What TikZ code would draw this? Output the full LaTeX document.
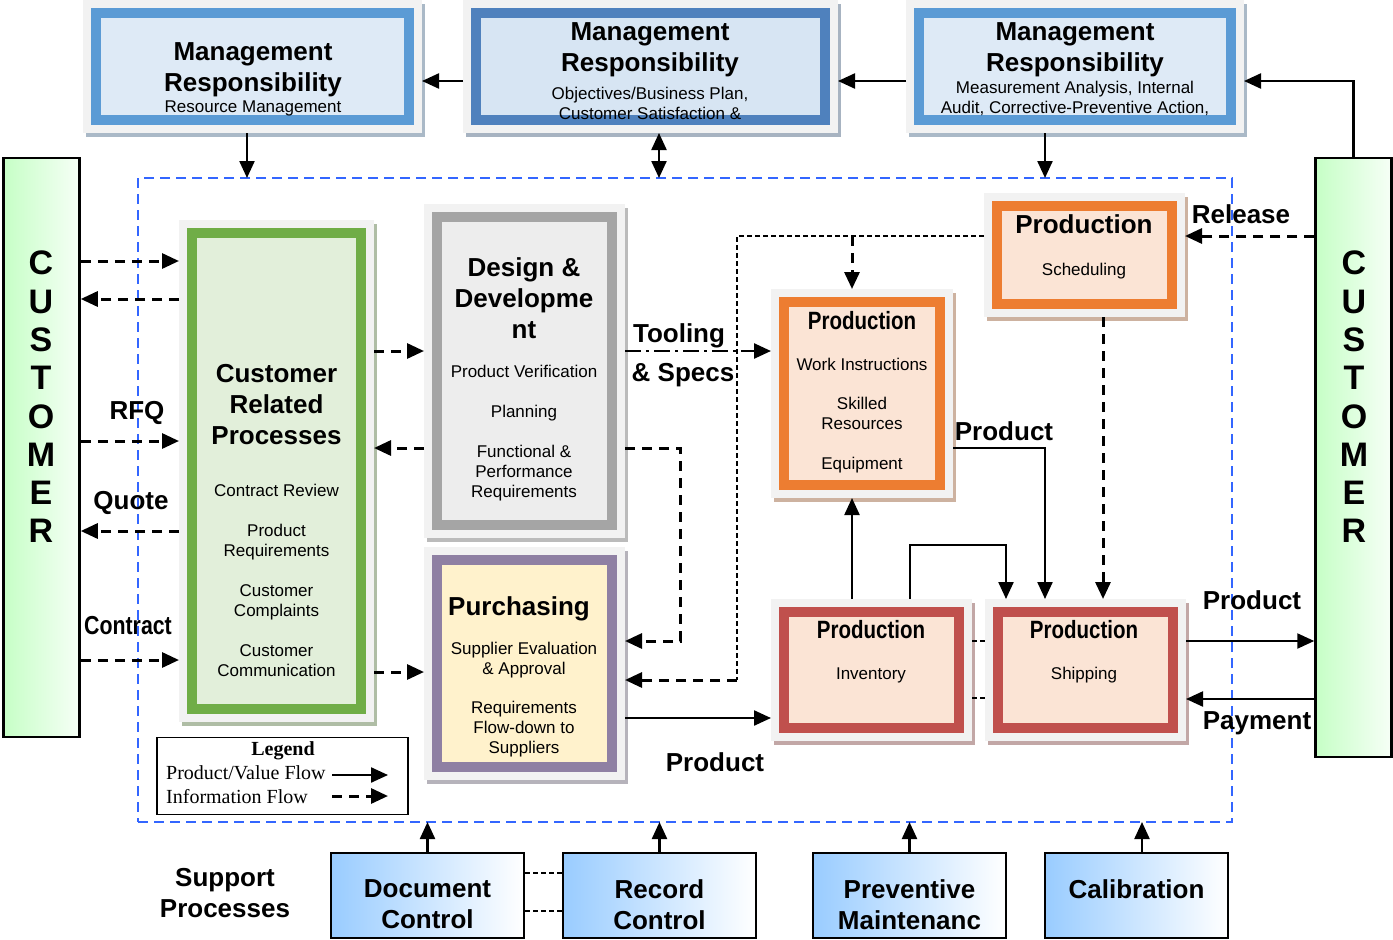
\documentclass[tikz,border=0pt]{standalone}
\usepackage{fontspec}
\setmainfont{Liberation Sans}
\newfontfamily\legfont{Liberation Serif}
\newfontfamily\narrowfont[FakeStretch=0.82]{Liberation Sans}
\usetikzlibrary{arrows.meta}
\definecolor{panel}{HTML}{F2F2F2}
\definecolor{mrA}{HTML}{5B9BD5}
\definecolor{mrB}{HTML}{4F81BD}
\definecolor{mrfill}{HTML}{DEEAF6}
\definecolor{crpgreen}{HTML}{70AD47}
\definecolor{crpfill}{HTML}{E2EFDA}
\definecolor{ddgray}{HTML}{A5A5A5}
\definecolor{ddfill}{HTML}{EDEDED}
\definecolor{pupurple}{HTML}{8F80A3}
\definecolor{pufill}{HTML}{FFF2CC}
\definecolor{porange}{HTML}{ED7D31}
\definecolor{pred}{HTML}{C0504D}
\definecolor{pfill}{HTML}{FBE4D5}
\definecolor{custgreen}{HTML}{C6FFC6}
\definecolor{supblue}{HTML}{99CCFF}
\definecolor{qmsblue}{HTML}{3366FF}
\tikzset{
  pbox/.style 2 args={draw=#1, fill=#2, line width=10pt, inner sep=0pt, outer sep=13pt,
    preaction={draw=#1!40!gray!60!white, line width=26pt, transform canvas={shift={(3pt,-4pt)}}},
    preaction={draw=panel, line width=26pt}},
  cust/.style={draw=black, line width=2.5pt, left color=custgreen, right color=custgreen!15!white,
    minimum width=76pt, inner sep=0pt},
  supbox/.style={draw=black, line width=2.5pt, left color=supblue, right color=white,
    minimum width=193pt, minimum height=85pt, inner sep=0pt},
  ttl/.style={font=\fontsize{26}{31}\selectfont\bfseries, align=center, inner sep=0pt},
  ntl/.style={font=\fontsize{25}{30}\selectfont\narrowfont\bfseries, align=center, inner sep=0pt},
  txt/.style={font=\fontsize{17}{20}\selectfont, align=center, inner sep=0pt},
  letters/.style={font=\fontsize{34}{38.3}\selectfont\bfseries, align=center, inner sep=0pt},
  lbl/.style={font=\fontsize{26}{31}\selectfont\bfseries, inner sep=0pt},
  nlbl/.style={font=\fontsize{26}{31}\selectfont\narrowfont\bfseries, inner sep=0pt},
  legtxt/.style={font=\fontsize{20}{24}\selectfont\legfont, inner sep=0pt},
  flow/.style={line width=2.3pt, -{Triangle[length=17pt,width=15pt]}},
  flowboth/.style={line width=2.3pt, {Triangle[length=17pt,width=15pt]}-{Triangle[length=17pt,width=15pt]}},
  info/.style={line width=3pt, dash pattern=on 10pt off 7pt, -{Triangle[length=17pt,width=15pt]}},
  dashdot/.style={line width=2.5pt, dash pattern=on 16pt off 5pt on 3pt off 5pt, -{Triangle[length=17pt,width=15pt]}},
  thinline/.style={line width=1.2pt, dash pattern=on 5pt off 3pt},
}
\begin{document}
\begin{tikzpicture}[x=1pt, y=-1pt]
			\useasboundingbox (0,0) rectangle (1393,940);
			\node [draw=qmsblue, line width=2pt, dash pattern=on 10pt off 6pt, outer sep=0pt, minimum width=1094pt, minimum height=644pt] (qms) at (685,500) {};
			
			\node [pbox={mrA}{mrfill}, minimum width=313pt, minimum height=107pt] (MR1) at (252.5,66.5) {};
			\node [pbox={mrB}{mrfill!95!mrB}, minimum width=349pt, minimum height=107pt] (MR2) at (650.5,66.5) {};
			\node [pbox={mrA}{mrfill}, minimum width=312pt, minimum height=107pt] (MR3) at (1075,66.5) {};
			\node [ttl] (MR1t) at (253,70) {Management\\Responsibility};
			\node [txt] (MR1s) at (253,108.5) {Resource Management};
			\node [ttl] (MR2t) at (650,50) {Management\\Responsibility};
			\node [txt] (MR2s) at (650,103) {Objectives/Business Plan,\\Customer Satisfaction \&};
			\node [ttl] (MR3t) at (1075,50) {Management\\Responsibility};
			\node [txt] (MR3s) at (1075,98) {Measurement Analysis, Internal\\Audit, Corrective-Preventive Action,};
			
			\node [cust, minimum height=579pt] (CustL) at (41.5,447.5) {};
			\node [cust, minimum height=599pt] (CustR) at (1353.5,457.5) {};
			\node [letters] (CustLt) at (41,397) {C\\U\\S\\T\\O\\M\\E\\R};
			\node [letters] (CustRt) at (1354,397) {C\\U\\S\\T\\O\\M\\E\\R};
			
			\node [pbox={crpgreen}{crpfill}, minimum width=169pt, minimum height=476pt] (CRP) at (276.5,471) {};
			\node [ttl] (CRPt) at (276.5,405) {Customer\\Related\\Processes};
			\node [txt] (CRPs) at (276.5,580) {Contract Review\\[20pt]Product\\Requirements\\[20pt]Customer\\Complaints\\[20pt]Customer\\Communication};
			
			\node [pbox={ddgray}{ddfill}, minimum width=175pt, minimum height=308pt] (DD) at (524.5,371) {};
			\node [ttl] (DDt) at (524,298) {Design \&\\Developme\\nt};
			\node [txt] (DDs) at (524,433) {Product Verification\\[20pt]Planning\\[20pt]Functional \&\\Performance\\Requirements};
			
			\node [pbox={pupurple}{pufill}, minimum width=175pt, minimum height=207pt] (PU) at (524.5,663.5) {};
			\node [ttl] (PUt) at (519,609) {Purchasing};
			\node [txt] (PUs) at (524,700) {Supplier Evaluation\\\& Approval\\[19pt]Requirements\\Flow-down to\\Suppliers};
			
			\node [pbox={porange}{pfill}, minimum width=156pt, minimum height=183pt] (PW) at (862,393.5) {};
			\node [ntl] (PWt) at (862,321) {Production};
			\node [txt] (PWs) at (862,416) {Work Instructions\\[19pt]Skilled\\Resources\\[20pt]Equipment};
			
			\node [pbox={porange}{pfill}, minimum width=175pt, minimum height=98pt] (PS) at (1084.5,255) {};
			\node [ttl] (PSt) at (1084,224) {Production};
			\node [txt] (PSs) at (1084,271) {Scheduling};
			
			\node [pbox={pred}{pfill}, minimum width=175pt, minimum height=116pt] (PI) at (871.5,670) {};
			\node [ntl] (PIt) at (871,630) {Production};
			\node [txt] (PIs) at (871,675) {Inventory};
			
			\node [pbox={pred}{pfill}, minimum width=175pt, minimum height=116pt] (PSh) at (1085.5,670) {};
			\node [ntl] (PSht) at (1084,630) {Production};
			\node [txt] (PShs) at (1084,675) {Shipping};
			
			\node [draw, line width=1.5pt, minimum width=251pt, minimum height=77pt] (Leg) at (282.5,776) {};
			\node [legtxt, font=\fontsize{20}{24}\selectfont\legfont\bfseries] (LegT) at (283,751) {Legend};
			\node [legtxt, anchor=west] (LegP) at (166,773) {Product/Value Flow};
			\node [legtxt, anchor=west] (LegI) at (166,797) {Information Flow};
			\coordinate (LegPa) at (332,775);
			\coordinate (LegPb) at (388,775);
			\coordinate (LegIa) at (332,796);
			\coordinate (LegIb) at (388,796);
			\draw [flow] (LegPa) -- (LegPb);
			\draw [info] (LegIa) -- (LegIb);
			
			\node [supbox] (Doc) at (427.5,895.5) {};
			\node [supbox] (Rec) at (659.5,895.5) {};
			\node [supbox] (PM) at (909.5,895.5) {};
			\node [supbox, minimum width=183pt] (Cal) at (1136.5,895.5) {};
			\node [ttl] (Doct) at (427.5,904.5) {Document\\Control};
			\node [ttl] (Rect) at (659.5,904.5) {Record\\Control};
			\node [ttl] (PMt) at (909.5,904.5) {Preventive\\Maintenanc};
			\node [ttl] (Calt) at (1136.5,889) {Calibration};
			\node [ttl] (Sup) at (225,893) {Support\\Processes};
			
			\draw [flow] (MR2.west |- 0,81) -- (MR1.east |- 0,81);
			\draw [flow] (MR3.west |- 0,81) -- (MR2.east |- 0,81);
			\draw [flow] (CustR.north) |- (MR3.east |- 0,81);
			\draw [flow] (MR1.south -| 247,0) -- (qms.north -| 247,0);
			\draw [flowboth] (MR2.south -| 659,0) -- (qms.north -| 659,0);
			\draw [flow] (MR3.south -| 1045,0) -- (qms.north -| 1045,0);
			
			\draw [info] (CustL.east |- 0,261) -- (CRP.west |- 0,261);
			\draw [info] (CRP.west |- 0,299) -- (CustL.east |- 0,299);
			\draw [info] (CustL.east |- 0,441) -- (CRP.west |- 0,441);
			\draw [info] (CRP.west |- 0,531) -- (CustL.east |- 0,531);
			\draw [info] (CustL.east |- 0,660) -- (CRP.west |- 0,660);
			\node [lbl] (RFQ) at (137,413) {RFQ};
			\node [lbl] (Quote) at (131,503) {Quote};
			\node [nlbl] (Contr) at (128,626) {Contract};
			
			\draw [info] (CRP.east |- 0,351) -- (DD.west |- 0,351);
			\draw [info] (DD.west |- 0,448) -- (CRP.east |- 0,448);
			\draw [info] (CRP.east |- 0,672) -- (PU.west |- 0,672);
			\draw [info] (DD.east |- 0,448) -| (680,641) -- (PU.east |- 0,641);
			\draw [dashdot] (DD.east |- 0,351) -- (PW.west |- 0,351);
			\node [lbl] (Tool) at (679,336) {Tooling};
			\node [lbl] (Spec) at (683,375) {\& Specs};
			
			\coordinate (jPW) at (852,236);
			\coordinate (jPU) at (737,680);
			\draw [thinline] (PS.west |- 0,236) -- (737,236) -- (jPU);
			\draw [info] (jPU) -- (PU.east |- jPU);
			\draw [info] (jPW) -- (PW.north -| jPW);
			\draw [info] (CustR.west |- 0,236) -- (PS.east |- 0,236);
			\node [lbl] (Rel) at (1241,214) {Release};
			
			\draw [info] (PS.south -| 1103,0) -- (PSh.north -| 1103,0);
			\draw [flow] (PW.east |- 0,448) -| (PSh.north -| 1045,0);
			\node [lbl] (ProdB) at (1004,431) {Product};
			\draw [flow] (PI.north -| 852,0) -- (PW.south -| 852,0);
			\draw [flow] (PI.north -| 910,0) |- (1006,545) -- (PSh.north -| 1006,0);
			\draw [thinline] (PI.east |- 0,641) -- (PSh.west |- 0,641);
			\draw [thinline] (PI.east |- 0,698) -- (PSh.west |- 0,698);
			
			\draw [flow] (PU.east |- 0,718) -- (PI.west |- 0,718);
			\node [lbl] (ProdA) at (715,762) {Product};
			\draw [flow] (PSh.east |- 0,641) -- (CustR.west |- 0,641);
			\draw [flow] (CustR.west |- 0,699) -- (PSh.east |- 0,699);
			\node [lbl] (ProdC) at (1252,600) {Product};
			\node [lbl] (Pay) at (1257,723) {Payment};
			
			\draw [flow] (Doc.north) -- (qms.south -| Doc.north);
			\draw [flow] (Rec.north) -- (qms.south -| Rec.north);
			\draw [flow] (PM.north) -- (qms.south -| PM.north);
			\draw [flow] (Cal.north -| 1142,0) -- (qms.south -| 1142,0);
			\draw [thinline] (Doc.east |- 0,873) -- (Rec.west |- 0,873);
			\draw [thinline] (Doc.east |- 0,911) -- (Rec.west |- 0,911);
		\end{tikzpicture}
\end{document}
